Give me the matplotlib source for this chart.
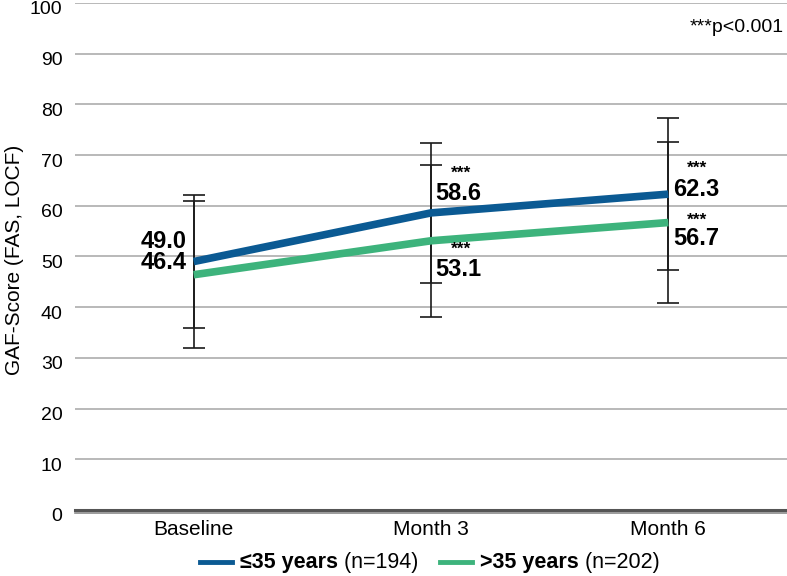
import matplotlib
matplotlib.use("Agg")
import matplotlib.pyplot as plt
import matplotlib.transforms as mtransforms
from matplotlib.lines import Line2D

plt.rcParams['font.family'] = ['Liberation Sans', 'DejaVu Sans']

# data
categories = ["Baseline", "Month 3", "Month 6"]
young_mean = [49.0, 58.6, 62.3]
young_sd = [13.1, 13.8, 15.0]
old_mean = [46.4, 53.1, 56.7]
old_sd = [14.5, 15.0, 15.9]
series_bold = ["≤35 years", ">35 years"]
series_n = [" (n=194)", " (n=202)"]
young_sig = ["", "***", "***"]
old_sig = ["", "***", "***"]

blue = "#0b5a93"
green = "#3db37c"

fig = plt.figure(figsize=(7.87, 5.76), dpi=100)
ax = fig.add_axes([0.0953, 0.1146, 0.9047, 0.8802])
x = list(range(len(categories)))

ax.errorbar(x, young_mean, yerr=young_sd, fmt='none', ecolor='#1a1a1a',
            elinewidth=1.2, capsize=8, capthick=1.2, zorder=3)
ax.errorbar(x, old_mean, yerr=old_sd, fmt='none', ecolor='#1a1a1a',
            elinewidth=1.2, capsize=8, capthick=1.2, zorder=3)
ax.plot(x, young_mean, color=blue, lw=5.5, solid_capstyle='butt', zorder=4)
ax.plot(x, old_mean, color=green, lw=5.5, solid_capstyle='butt', zorder=4)

# value labels (offsets in data units, tuned by eye)
lab_font = dict(fontsize=17, fontweight='bold')
val_dy_young = [4.0, 3.9, 0.9]
val_dy_old = [2.5, -5.6, -3.1]
sig_dy_young = [0, 7.9, 5.2]
sig_dy_old = [0, -1.6, 0.5]
sig_dx = [0, 0.125, 0.12]
for i in x:
    if i == 0:
        ax.text(i - 0.03, young_mean[i] + val_dy_young[i], f"{young_mean[i]:.1f}", ha='right', va='center', **lab_font)
        ax.text(i - 0.03, old_mean[i] + val_dy_old[i], f"{old_mean[i]:.1f}", ha='right', va='center', **lab_font)
        continue
    ax.text(i + 0.02, young_mean[i] + val_dy_young[i], f"{young_mean[i]:.1f}", ha='left', va='center', **lab_font)
    ax.text(i + 0.02, old_mean[i] + val_dy_old[i], f"{old_mean[i]:.1f}", ha='left', va='center', **lab_font)
    ax.text(i + sig_dx[i], young_mean[i] + sig_dy_young[i], young_sig[i],
            ha='center', va='center', fontsize=12.5, fontweight='bold', zorder=5)
    ax.text(i + sig_dx[i], old_mean[i] + sig_dy_old[i], old_sig[i],
            ha='center', va='center', fontsize=12.5, fontweight='bold', zorder=5)

ax.text(0.995, 0.952, "***p<0.001", transform=ax.transAxes, ha='right', va='center', fontsize=14)

ax.set_xlim(-0.5, 2.5)
ax.set_ylim(0, 100)
ax.set_yticks(range(0, 101, 10))
ax.set_xticks(x)
ax.set_xticklabels(categories)
ax.tick_params(axis='y', length=0, pad=9, labelsize=14)
ax.tick_params(axis='x', length=0, pad=7, labelsize=15)
shift = mtransforms.ScaledTranslation(0, -0.05, fig.dpi_scale_trans)
for lbl in ax.get_yticklabels():
    lbl.set_transform(lbl.get_transform() + shift)
ax.grid(axis='y', color='#a6a6a6', lw=1.1)
ax.set_axisbelow(True)
for s in ax.spines.values():
    s.set_visible(False)

# double zero line
ax.axhline(0, color='#555555', lw=2.2, clip_on=False, zorder=2)
ax.axhline(-0.55, color='#8a8a8a', lw=1.2, clip_on=False, zorder=2)

ax.set_ylabel("GAF-Score (FAS, LOCF)", fontsize=15)
ax.yaxis.set_label_coords(-0.072, 0.493)

# legend built by hand so the bold part and the (n=..) part can differ
renderer = fig.canvas.get_renderer()
W = fig.bbox.width
leg_y = 0.024
handle_len = 32 / W
x_pos = 200 / W
for color, bold, nlab in zip([blue, green], series_bold, series_n):
    fig.add_artist(Line2D([x_pos, x_pos + handle_len], [leg_y, leg_y], color=color, lw=3.5,
                          transform=fig.transFigure))
    x_pos += handle_len + 8 / W
    t = fig.text(x_pos, leg_y, bold, fontsize=15.5, fontweight='bold', va='center', ha='left')
    x_pos += t.get_window_extent(renderer).width / W
    t = fig.text(x_pos, leg_y, nlab, fontsize=15.5, va='center', ha='left')
    x_pos += t.get_window_extent(renderer).width / W + 22 / W

fig.savefig("out.png", dpi=100)
